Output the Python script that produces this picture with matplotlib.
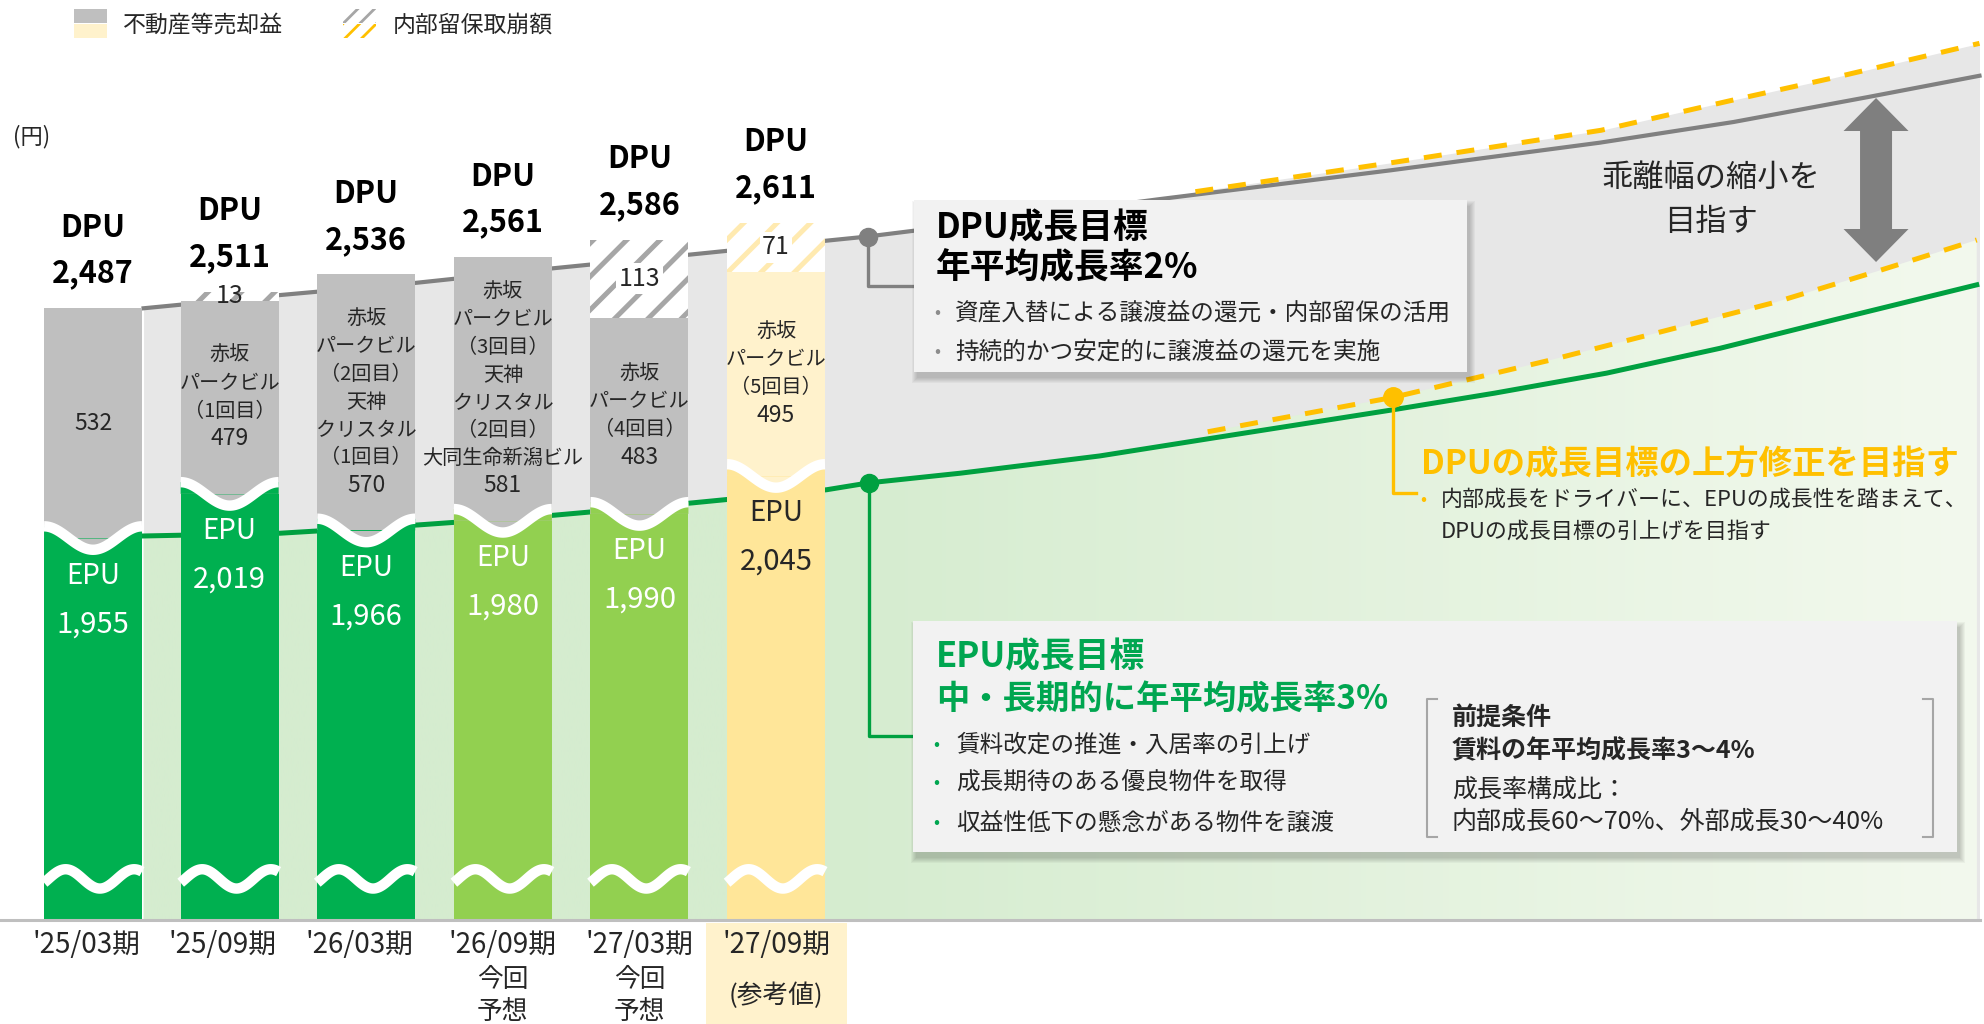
import numpy as np
import matplotlib
matplotlib.use("Agg")
import matplotlib.pyplot as plt
from matplotlib.patches import Rectangle, FancyArrow

plt.rcParams['font.family'] = ['Noto Sans CJK JP', 'DejaVu Sans']
plt.rcParams['hatch.linewidth'] = 3.6

# ---- data (yen per unit) ----
periods = ["'25/03期", "'25/09期", "'26/03期", "'26/09期", "'27/03期", "'27/09期"]
sub_labels = ["", "", "", "今回\n予想", "今回\n予想", "(参考値)"]
dpu = np.array([2487, 2511, 2536, 2561, 2586, 2611])
epu = np.array([1955, 2019, 1966, 1980, 1990, 2045])
gain = np.array([532, 479, 570, 581, 483, 495])
retained = np.array([0, 13, 0, 0, 113, 71])
gain_names = ["",
              "赤坂\nパークビル\n（1回目）",
              "赤坂\nパークビル\n（2回目）\n天神\nクリスタル\n（1回目）",
              "赤坂\nパークビル\n（3回目）\n天神\nクリスタル\n（2回目）\n大同生命新潟ビル",
              "赤坂\nパークビル\n（4回目）",
              "赤坂\nパークビル\n（5回目）"]

# trend lines (x in period index)
dpu_trend_x = [0.37, 1.36, 2.37, 3.37, 4.38, 5.37, 5.67, 6.6, 7.8, 9.5, 11.03, 12.01, 12.99, 13.81]
dpu_trend_y = [2487, 2506, 2524, 2545, 2565, 2585, 2591, 2614, 2645, 2687, 2727, 2757, 2793, 2824]
dpu_up_x = [8.07, 9.54, 11.04, 12.01, 12.74, 13.81]
dpu_up_y = [2656, 2699, 2745, 2789, 2821, 2871]
epu_trend_x = [0.37, 1.37, 2.38, 3.37, 4.39, 5.37, 5.68, 6.35, 7.37, 8.2, 9.52, 10.26, 11.08, 11.91, 12.74, 13.79]
epu_trend_y = [1958, 1962, 1974, 1988, 2006, 2025, 2035, 2049, 2074, 2100, 2141, 2165, 2194, 2230, 2271, 2322]
epu_up_x = [8.16, 9.52, 10.67, 11.50, 12.32, 13.05, 13.79]
epu_up_y = [2109, 2159, 2213, 2255, 2297, 2341, 2387]

BREAK = 199     # yen hidden in the wave break between EPU and DPU part
FLOOR = 1401    # axis cut at the bottom

W, H = 1984, 1024
fig = plt.figure(figsize=(W / 100, H / 100), dpi=100)
ax = fig.add_axes([0, 0, 1, 1])
ax.set_xlim(-0.681, 13.843)
ax.set_ylim(1250.7, 2734.8)
ax.axis('off')


def fp(x, y):
    return x / W, 1 - y / H


def d(x, y):
    # pixel position -> data position (for annotations)
    return (x - 93) / 136.6, (1887 - y) / 0.69


GRAY_BAND = '#E7E7E7'
GREEN_LINE = '#00A040'
ORANGE = '#FFC000'
TXT = '#262626'

# ---- background bands ----
ax.fill_between(dpu_trend_x, FLOOR, np.array(dpu_trend_y) - BREAK, color=GRAY_BAND, lw=0, zorder=0)
ax.fill_between(dpu_up_x, FLOOR, np.array(dpu_up_y) - BREAK, color=GRAY_BAND, lw=0, zorder=0)

n = 300
gx = np.linspace(0.3, 13.82, n)
c0 = np.array([213, 236, 207]) / 255
c1 = np.array([243, 249, 238]) / 255
f = np.clip((gx - 5.4) / (13.82 - 5.4), 0, 1)[:, None]
grad = (c0 * (1 - f) + c1 * f)[None, :, :]
for xs_, ys_ in [(epu_trend_x, epu_trend_y), (epu_up_x, epu_up_y)]:
    poly = ax.fill_between(xs_, FLOOR, ys_, facecolor='none', lw=0)
    im = ax.imshow(grad, extent=(0.3, 13.82, FLOOR, 2500), aspect='auto',
                   origin='lower', zorder=0.5, interpolation='bilinear')
    im.set_clip_path(poly.get_paths()[0], transform=ax.transData)

# ---- trend lines ----
ax.plot(dpu_trend_x, np.array(dpu_trend_y) - BREAK, color='#808080', lw=3, zorder=1.5)
ax.plot(epu_trend_x, epu_trend_y, color=GREEN_LINE, lw=3.6, zorder=1.5)
ax.plot(dpu_up_x, np.array(dpu_up_y) - BREAK, color=ORANGE, lw=3.6, ls=(0, (3.6, 3.0)), zorder=1.5)
ax.plot(epu_up_x, epu_up_y, color=ORANGE, lw=3.6, ls=(0, (3.6, 3.0)), zorder=1.5)

# ---- bars ----
x = np.arange(len(periods))
bw = 0.717
epu_colors = ['#00B050', '#00B050', '#00B050', '#92D050', '#92D050', '#FFE699']
gain_colors = ['#BFBFBF'] * 5 + ['#FFF2CC']
hatch_colors = ['#A6A6A6'] * 5 + ['#FFEAB0']
top = dpu - BREAK
gain_top = top - retained

ax.bar(x, epu - FLOOR, bottom=FLOOR, width=bw, color=epu_colors, zorder=2)
ax.bar(x, gain_top - epu, bottom=epu, width=bw, color=gain_colors, zorder=2)
for i in range(len(x)):
    if retained[i] > 0:
        ax.bar(x[i], retained[i], bottom=gain_top[i], width=bw, facecolor='white',
               edgecolor=hatch_colors[i], hatch='/', lw=0, zorder=2)

# wave breaks
for i in range(len(x)):
    xs = np.linspace(x[i] - bw / 2, x[i] + bw / 2, 80)
    t = (xs - xs[0]) / bw
    yw = epu[i] + 17 * np.cos(2 * np.pi * t)
    ax.fill_between(xs, epu[i], yw, where=yw >= epu[i], color=epu_colors[i], lw=0, zorder=2.1)
    ax.fill_between(xs, yw, epu[i], where=yw < epu[i], color=gain_colors[i], lw=0, zorder=2.1)
    ax.plot(xs, yw, color='white', lw=7.5, zorder=2.2, solid_capstyle='butt')
    yb = 1461 + 14 * np.cos(2 * np.pi * (t - 0.22) / 0.7)
    ax.plot(xs, yb, color='white', lw=7.5, zorder=2.2, solid_capstyle='butt')

# ---- labels on bars ----
STEP = 19.9  # line step in points for the labels inside the grey part
for i in range(len(x)):
    ax.annotate(f"{dpu[i]:,}", (x[i], top[i]), xytext=(0, 25), textcoords='offset points',
                ha='center', va='center', fontsize=22, fontweight='bold', color='black', zorder=5)
    ax.annotate("DPU", (x[i], top[i]), xytext=(0, 58), textcoords='offset points',
                ha='center', va='center', fontsize=22, fontweight='bold', color='black', zorder=5)
    ec = 'white' if i < 5 else TXT
    ax.annotate("EPU", (x[i], epu[i]), xytext=(0, -27), textcoords='offset points',
                ha='center', va='center', fontsize=20, color=ec, zorder=5)
    ax.annotate(f"{epu[i]:,}", (x[i], epu[i]), xytext=(0, -62), textcoords='offset points',
                ha='center', va='center', fontsize=21, color=ec, zorder=5)
    mid = (epu[i] + gain_top[i]) / 2
    nl = gain_names[i].count("\n") + 2 if gain_names[i] else 1
    if gain_names[i]:
        ax.annotate(gain_names[i], (x[i], mid), xytext=(0, STEP / 2), textcoords='offset points',
                    ha='center', va='center', fontsize=14.5, color=TXT, linespacing=1.42, zorder=5)
    ax.annotate(f"{gain[i]}", (x[i], mid), xytext=(0, -(nl - 1) / 2 * STEP), textcoords='offset points',
                ha='center', va='center', fontsize=16.5, color=TXT, zorder=5)
    if retained[i] > 0:
        bb = dict(boxstyle='square,pad=0.1', fc='white', ec='none') if retained[i] > 50 else None
        ax.text(x[i], gain_top[i] + retained[i] / 2, f"{retained[i]}", ha='center', va='center',
                fontsize=18, color=TXT, bbox=bb, zorder=5)

# x axis labels
ax.add_patch(Rectangle((x[5] - 0.516, 1250.7), 1.032, FLOOR - 4 - 1250.7, color='#FFF2CC', lw=0, zorder=1))
ax.axhline(FLOOR, xmin=0, xmax=0.998, color='#BFBFBF', lw=2.2, zorder=3)
for i in range(len(x)):
    ax.annotate(periods[i], (x[i], FLOOR), xytext=(-5 if i < 3 else 0, -18), textcoords='offset points',
                ha='center', va='center', fontsize=20, color=TXT)
    if sub_labels[i]:
        ax.annotate(sub_labels[i], (x[i], FLOOR), xytext=(0, -54.7), textcoords='offset points',
                    ha='center', va='center', fontsize=18.5, color=TXT, linespacing=1.3)

# ---- markers and connectors ----
gdx, gdy = dpu_trend_x[6], dpu_trend_y[6] - BREAK
ax.plot([gdx, gdx, d(913, 0)[0]], [gdy, d(0, 286)[1], d(0, 286)[1]], color='#808080', lw=2.4, zorder=3)
ax.plot(gdx, gdy, 'o', color='#808080', ms=13, zorder=3.1)
edx, edy = epu_trend_x[6], epu_trend_y[6]
ax.plot([edx, edx, d(913, 0)[0]], [edy, d(0, 736)[1], d(0, 736)[1]], color=GREEN_LINE, lw=2.4, zorder=3)
ax.plot(edx, edy, 'o', color=GREEN_LINE, ms=13, zorder=3.1)
ydx, ydy = epu_up_x[1], epu_up_y[1]
ax.plot([ydx, ydx, d(1416, 0)[0]], [ydy, d(0, 493)[1], d(0, 493)[1]], color=ORANGE, lw=2.4, zorder=3)
ax.plot(ydx, ydy, 'o', color=ORANGE, ms=14, zorder=3.1)

# ---- double arrow ----
ax_, ytop = d(1876, 98)
_, ymid = d(0, 180)
_, ybot = d(0, 262)
for dy in (ytop - ymid, ybot - ymid):
    ax.add_patch(FancyArrow(ax_, ymid, 0, dy, width=32 / 136.6, head_width=65 / 136.6,
                            head_length=33 / 0.69, length_includes_head=True,
                            color='#7F7F7F', lw=0, zorder=3))
fig.text(*fp(1711, 200), "乖離幅の縮小を\n目指す", ha='center', va='center', fontsize=22.5,
         color=TXT, linespacing=1.45)


# ---- callout boxes ----
def box(x0, y0, x1, y1):
    for s in range(6):
        fig.patches.append(Rectangle(fp(x0 + 3 - s, y1 + 6 + s), (x1 - x0 + 2 * s) / W,
                                     (y1 - y0 + 2 * s) / H, transform=fig.transFigure,
                                     color='black', alpha=0.035, lw=0, zorder=4))
    fig.patches.append(Rectangle(fp(x0, y1), (x1 - x0) / W, (y1 - y0) / H, transform=fig.transFigure,
                                 color='#F2F2F2', lw=0, zorder=4.1))


box(914, 200, 1467, 372)
fig.text(*fp(936, 228), "DPU成長目標", fontsize=25, fontweight='bold', color='black', va='center', zorder=6)
fig.text(*fp(936, 268), "年平均成長率2%", fontsize=25, fontweight='bold', color='black', va='center', zorder=6)
for yy, s in [(313, "資産入替による譲渡益の還元・内部留保の活用"), (352, "持続的かつ安定的に譲渡益の還元を実施")]:
    fig.text(*fp(934, yy), "•", fontsize=13, color='#8C8C8C', va='center', zorder=6)
    fig.text(*fp(955, yy), s, fontsize=17, color=TXT, va='center', zorder=6)

box(913, 621, 1957, 852)
fig.text(*fp(936, 657), "EPU成長目標", fontsize=25, fontweight='bold', color='#00A650', va='center', zorder=6)
fig.text(*fp(936, 700), "中・長期的に年平均成長率3%", fontsize=24, fontweight='bold', color='#00A650',
         va='center', zorder=6)
for yy, s in [(745, "賃料改定の推進・入居率の引上げ"), (783, "成長期待のある優良物件を取得"),
              (823, "収益性低下の懸念がある物件を譲渡")]:
    fig.text(*fp(933, yy), "•", fontsize=13, color='#00A650', va='center', zorder=6)
    fig.text(*fp(956, yy), s, fontsize=17, color=TXT, va='center', zorder=6)

# bracket
for bx, sx in [(1427, 10), (1933, -10)]:
    fig.lines.append(plt.Line2D([fp(bx + sx, 0)[0], fp(bx, 0)[0], fp(bx, 0)[0], fp(bx + sx, 0)[0]],
                                [fp(0, 699)[1], fp(0, 699)[1], fp(0, 837)[1], fp(0, 837)[1]],
                                transform=fig.transFigure, color='#A6A6A6', lw=1.5, zorder=6))
fig.text(*fp(1452, 718), "前提条件", fontsize=18, fontweight='bold', color=TXT, va='center', zorder=6)
fig.text(*fp(1452, 751), "賃料の年平均成長率3～4%", fontsize=18, fontweight='bold', color=TXT, va='center', zorder=6)
fig.text(*fp(1452, 790), "成長率構成比：", fontsize=18, color=TXT, va='center', zorder=6)
fig.text(*fp(1452, 822), "内部成長60～70%、外部成長30～40%", fontsize=18, color=TXT, va='center', zorder=6)

# upward revision note
fig.text(*fp(1421, 465), "DPUの成長目標の上方修正を目指す", fontsize=24, fontweight='bold', color=ORANGE,
         va='center', zorder=6)
fig.text(*fp(1420, 500), "•", fontsize=13, color=ORANGE, va='center', zorder=6)
fig.text(*fp(1441, 500), "内部成長をドライバーに、EPUの成長性を踏まえて、", fontsize=15.8, color=TXT, va='center', zorder=6)
fig.text(*fp(1441, 532), "DPUの成長目標の引上げを目指す", fontsize=15.8, color=TXT, va='center', zorder=6)

# ---- legend and unit ----
fig.patches.append(Rectangle(fp(74, 23), 33 / W, 14 / H, transform=fig.transFigure, color='#BFBFBF', lw=0))
fig.patches.append(Rectangle(fp(74, 38), 33 / W, 14 / H, transform=fig.transFigure, color='#FFF2CC', lw=0))
fig.text(*fp(123, 25), "不動産等売却益", fontsize=16.5, color=TXT, va='center')
with plt.rc_context({'hatch.linewidth': 2.0}):
    for yb_, hc in [(23, '#A6A6A6'), (38, ORANGE)]:
        p = Rectangle(fp(343, yb_), 33 / W, 14 / H, transform=fig.transFigure, facecolor='white',
                      edgecolor=hc, hatch='//', lw=0)
        if hasattr(p, 'set_hatch_linewidth'):
            p.set_hatch_linewidth(2.0)
        fig.patches.append(p)
fig.text(*fp(393, 25), "内部留保取崩額", fontsize=16.5, color=TXT, va='center')
fig.text(*fp(13, 137), "(円)", fontsize=16, color=TXT, va='center')

fig.savefig("out.png", dpi=100)
